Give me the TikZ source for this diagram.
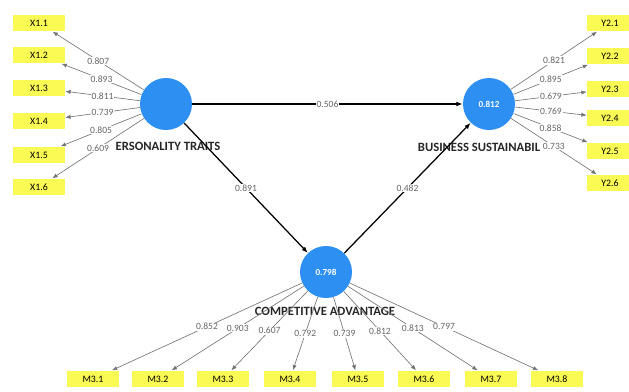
\documentclass[tikz,border=0pt]{standalone}
\usepackage{fontspec}
\setmainfont{Carlito}
\usepackage{tikz}
\usetikzlibrary{arrows.meta,positioning}
\definecolor{lvblue}{RGB}{45,143,242}
\definecolor{mvyellow}{RGB}{250,250,85}
\tikzset{
  latent/.style={
    circle,
    fill=lvblue,
    minimum size=1.3cm,
    inner sep=0pt,
    text=white,
    font=\fontsize{6.5}{7}\selectfont\bfseries,
  },
  ind/.style={
    rectangle,
    fill=mvyellow,
    inner sep=0pt,
    minimum height=0.42cm,
    minimum width=1.3cm,
    font=\fontsize{7}{8}\selectfont,
  },
  indr/.style={ind, minimum width=1.15cm},
  arr/.style={-{Latex[length=4.5pt, width=3.4pt]}, line width=0.9pt},
  load/.style={-{Latex[length=3.8pt, width=3pt]}, line width=0.45pt, draw=black!55},
  lbl/.style={font=\fontsize{6.8}{7}\selectfont, text=black!60, fill=white, inner sep=0.6pt},
  lvname/.style={font=\fontsize{9}{10}\selectfont\bfseries, text=black!85, inner sep=0pt},
}

\begin{document}
\begin{tikzpicture}[x=0.025cm, y=-0.025cm]
  \useasboundingbox (0,0) rectangle (629,391);

  % latent variables
  \node[latent] (pt) at (166,104) {};
  \node[latent] (bs) at (489,104) {0.812};
  \node[latent] (ca) at (326,272) {0.798};

  \node[lvname] (ptname) at (168,146) {ERSONALITY TRAITS};
  \node[lvname] (bsname) at (479,147) {BUSINESS SUSTAINABIL};
  \node[lvname] (caname) at (325,311) {COMPETITIVE ADVANTAGE};

  % indicators
  \node[ind] (x1) at (39,23) {X1.1};
  \node[ind] (x2) at (39,55) {X1.2};
  \node[ind] (x3) at (39,88) {X1.3};
  \node[ind] (x4) at (39,121) {X1.4};
  \node[ind] (x5) at (39,155) {X1.5};
  \node[ind] (x6) at (39,187) {X1.6};

  \node[indr] (y1) at (610,23) {Y2.1};
  \node[indr] (y2) at (610,56) {Y2.2};
  \node[indr] (y3) at (610,89) {Y2.3};
  \node[indr] (y4) at (610,118) {Y2.4};
  \node[indr] (y5) at (610,151) {Y2.5};
  \node[indr] (y6) at (610,183) {Y2.6};

  \node[ind] (m1) at (93,379) {M3.1};
  \node[ind] (m2) at (158,379) {M3.2};
  \node[ind] (m3) at (223,379) {M3.3};
  \node[ind] (m4) at (290,379) {M3.4};
  \node[ind] (m5) at (358,379) {M3.5};
  \node[ind] (m6) at (424,379) {M3.6};
  \node[ind] (m7) at (491,379) {M3.7};
  \node[ind] (m8) at (557,379) {M3.8};

  % outer loadings
  \draw[load] (pt) -- node[lbl] {0.807} (x1);
  \draw[load] (pt) -- node[lbl] {0.893} (x2);
  \draw[load] (pt) -- node[lbl] {0.811} (x3);
  \draw[load] (pt) -- node[lbl] {0.739} (x4);
  \draw[load] (pt) -- node[lbl] {0.805} (x5);
  \draw[load] (pt) -- node[lbl] {0.609} (x6);

  \draw[load] (bs) -- node[lbl] {0.821} (y1);
  \draw[load] (bs) -- node[lbl] {0.895} (y2);
  \draw[load] (bs) -- node[lbl] {0.679} (y3);
  \draw[load] (bs) -- node[lbl] {0.769} (y4);
  \draw[load] (bs) -- node[lbl] {0.858} (y5);
  \draw[load] (bs) -- node[lbl] {0.733} (y6);

  \draw[load] (ca) -- node[lbl] {0.852} (m1);
  \draw[load] (ca) -- node[lbl] {0.903} (m2);
  \draw[load] (ca) -- node[lbl] {0.607} (m3);
  \draw[load] (ca) -- node[lbl] {0.792} (m4);
  \draw[load] (ca) -- node[lbl] {0.739} (m5);
  \draw[load] (ca) -- node[lbl] {0.812} (m6);
  \draw[load] (ca) -- node[lbl] {0.813} (m7);
  \draw[load] (ca) -- node[lbl] {0.797} (m8);

  % structural paths
  \draw[arr] (pt) -- node[lbl] {0.506} (bs);
  \draw[arr] (pt) -- node[lbl] {0.891} (ca);
  \draw[arr] (ca) -- node[lbl] {0.482} (bs);
\end{tikzpicture}
\end{document}
